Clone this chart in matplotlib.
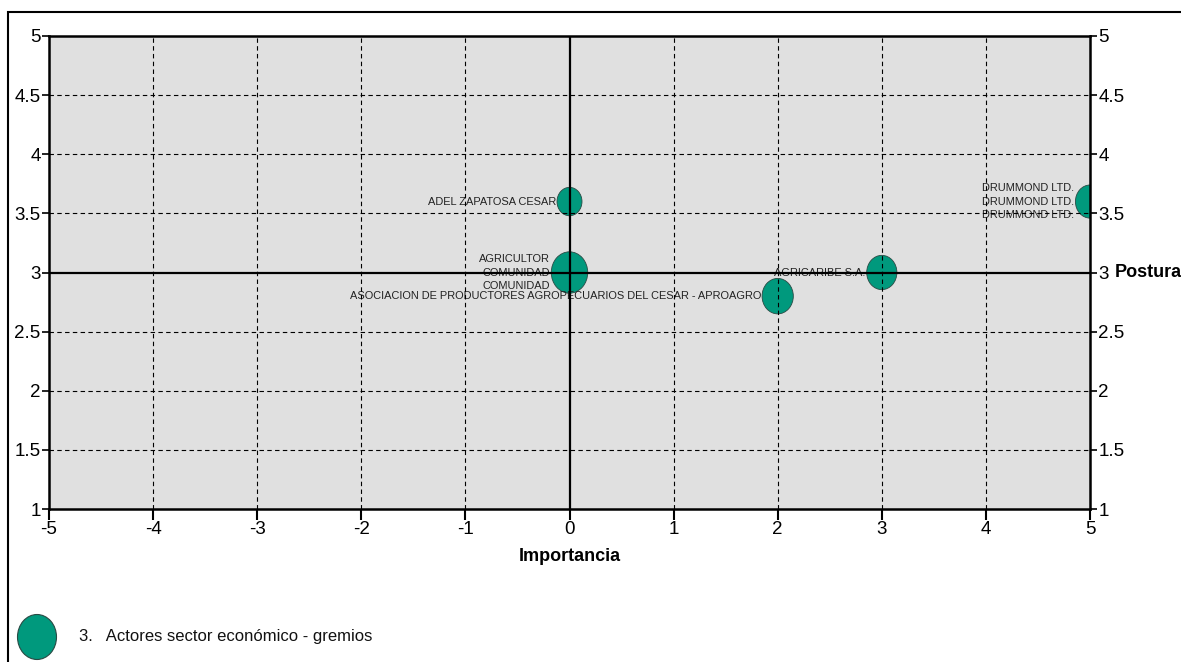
import matplotlib
matplotlib.use("Agg")
import matplotlib.pyplot as plt
from matplotlib.patches import Ellipse, Rectangle

plt.rcParams['font.family'] = ['Liberation Sans', 'DejaVu Sans']

# Data
actors = ["ADEL ZAPATOSA CESAR",
          "AGRICULTOR\nCOMUNIDAD\nCOMUNIDAD",
          "ASOCIACION DE PRODUCTORES AGROPECUARIOS DEL CESAR - APROAGRO",
          "AGRICARIBE S.A.",
          "DRUMMOND LTD.\nDRUMMOND LTD.\nDRUMMOND LTD."]
importancia = [0, 0, 2, 3, 5]
postura = [3.6, 3.0, 2.8, 3.0, 3.6]
bubble_size = [0.24, 0.35, 0.30, 0.29, 0.28]
x_ticks = [-5, -4, -3, -2, -1, 0, 1, 2, 3, 4, 5]
y_ticks = [1, 1.5, 2, 2.5, 3, 3.5, 4, 4.5, 5]
y_tick_labels = ["1", "1.5", "2", "2.5", "3", "3.5", "4", "4.5", "5"]
legend_label = "3.   Actores sector económico - gremios"

teal = "#00997d"
W, H = 1181, 662
fig = plt.figure(figsize=(W / 100, H / 100), dpi=100)
ax = fig.add_axes([49 / W, 1 - 509 / H, (1090 - 49) / W, (509 - 36) / H])
ax.set_facecolor("#e0e0e0")
ax.set_xlim(-5, 5)
ax.set_ylim(1, 5)

# grid
for xv in x_ticks[1:-1]:
    if xv != 0:
        ax.axvline(xv, color="black", lw=0.8, ls=(0, (4, 3)), zorder=4)
for yv in y_ticks[1:-1]:
    if yv != 3:
        ax.axhline(yv, color="black", lw=0.8, ls=(0, (4, 3)), zorder=4)
ax.axvline(0, color="black", lw=1.6, zorder=5)
ax.axhline(3, color="black", lw=1.6, zorder=5)

# bubbles
for x, y, d, lab in zip(importancia, postura, bubble_size, actors):
    e = Ellipse((x, y), width=d, height=d, facecolor=teal,
                edgecolor="#2a4a44", lw=0.6, zorder=2)
    ax.add_patch(e)
    ax.text(x - d / 2 - 0.01, y, lab, ha="right", va="center",
            fontsize=7.9, color="#222222", linespacing=1.45, zorder=3)

ax.set_xticks(x_ticks)
ax.set_xticklabels([str(v) for v in x_ticks])
ax.set_yticks(y_ticks)
ax.set_yticklabels(y_tick_labels)
ax.tick_params(axis="x", direction="out", length=8, width=1.5, labelsize=13.5, pad=1)
ax.tick_params(axis="y", direction="out", length=5, width=1.2, labelsize=13.5, pad=1,
               left=True, right=True, labelleft=True, labelright=True)
for s in ax.spines.values():
    s.set_linewidth(1.8)
ax.set_xlabel("Importancia", fontsize=13, fontweight="bold", labelpad=7)
ax.annotate("Postura", xy=(1.0, 3), xycoords=("axes fraction", "data"),
            xytext=(18, 0), textcoords="offset points", ha="left", va="center",
            fontsize=13, fontweight="bold", annotation_clip=False)

# outer frame
fig.add_artist(Rectangle((8 / W, -0.05), 1.2, 1.05 - 12 / H, transform=fig.transFigure,
                         fill=False, edgecolor="black", lw=1.5))

# legend
lax = fig.add_axes([0, 0, 1, 1], facecolor="none")
lax.set_xlim(0, W)
lax.set_ylim(H, 0)
lax.axis("off")
lax.add_patch(Ellipse((37, 637), 39, 45, facecolor=teal, edgecolor="#2a4a44", lw=0.8))
lax.text(79, 637, legend_label, ha="left", va="center", fontsize=12, color="#111111")

fig.savefig("out.png", dpi=100)
